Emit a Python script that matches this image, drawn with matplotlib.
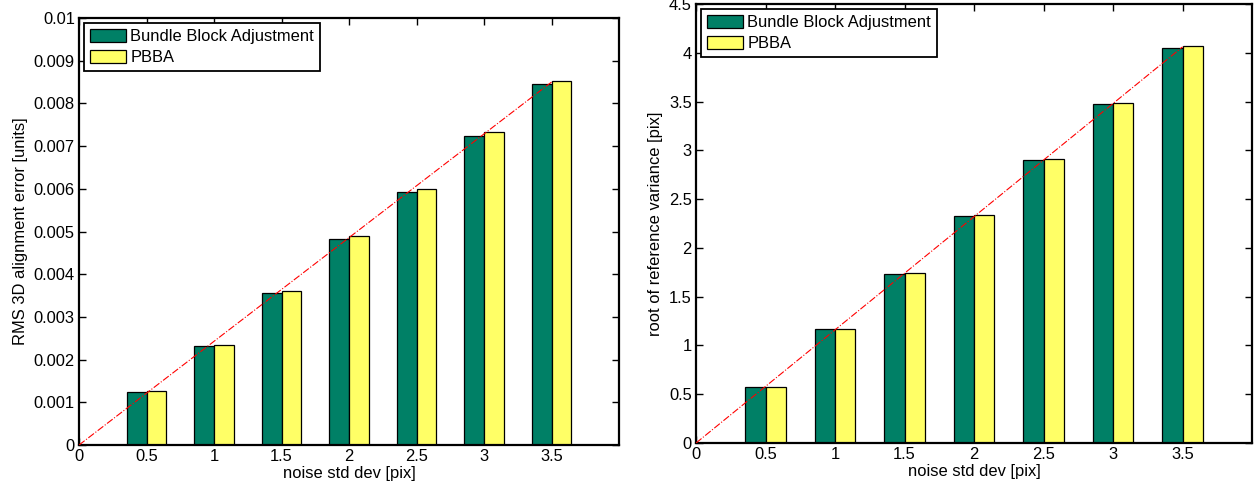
import numpy as np
import matplotlib
matplotlib.use('Agg')
import matplotlib.pyplot as plt

plt.rcParams['font.family'] = ['Liberation Sans', 'DejaVu Sans']
plt.rcParams['font.size'] = 11.9

# noise levels and results for the two solvers
noise = [0.5, 1.0, 1.5, 2.0, 2.5, 3.0, 3.5]
series_names = ['Bundle Block Adjustment', 'PBBA']

rms_bba = [0.00124, 0.00233, 0.00357, 0.00482, 0.00593, 0.00723, 0.00845]
rms_pbba = [0.00126, 0.00235, 0.00361, 0.00490, 0.00600, 0.00734, 0.00853]
rms_ref = [0.0, 0.0085]

sigma_bba = [0.571, 1.165, 1.732, 2.323, 2.897, 3.471, 4.045]
sigma_pbba = [0.577, 1.172, 1.743, 2.334, 2.911, 3.488, 4.065]
sigma_ref = [0.0, 4.06]
ref_x = [0.0, 3.5]

x_ticks = [0, 0.5, 1, 1.5, 2, 2.5, 3, 3.5]

green = '#008066'
yellow = '#ffff66'
bw = 0.145


def bar_panel(ax, a, b, ref, ylim, yticks, ylabel):
    x = np.array(noise)
    ax.bar(x - bw / 2, a, bw, color=green, edgecolor='black', linewidth=0.9,
           label=series_names[0], zorder=2)
    ax.bar(x + bw / 2, b, bw, color=yellow, edgecolor='black', linewidth=0.9,
           label=series_names[1], zorder=2)
    ax.plot(ref_x, ref, color='red', linestyle='-.', linewidth=0.8, zorder=3)
    ax.set_xlim(0, 4)
    ax.set_ylim(*ylim)
    ax.set_xticks(x_ticks)
    ax.set_xticklabels(['0', '0.5', '1', '1.5', '2', '2.5', '3', '3.5'])
    ax.set_yticks(yticks)
    ax.tick_params(direction='in', top=True, right=True, length=5, width=1,
                   pad=3)
    for s in ax.spines.values():
        s.set_linewidth(1.6)
    ax.set_xlabel('noise std dev [pix]', labelpad=1)
    ax.set_ylabel(ylabel, labelpad=4)
    leg = ax.legend(loc='upper left', fancybox=False, framealpha=1,
                    edgecolor='black', borderaxespad=0.3, borderpad=0.35,
                    handlelength=2.2, handleheight=0.9, handletextpad=0.25,
                    labelspacing=0.32)
    leg.get_frame().set_linewidth(1.3)


fig = plt.figure(figsize=(12.6, 4.9), dpi=100)
ax1 = fig.add_axes([0.0627, 0.0918, 0.4286, 0.8714])
ax2 = fig.add_axes([0.5524, 0.0959, 0.4413, 0.896])

y1 = np.round(np.arange(0, 0.0101, 0.001), 3)
bar_panel(ax1, rms_bba, rms_pbba, rms_ref, (0, 0.01), y1,
          'RMS 3D alignment error [units]')
ax1.set_yticklabels(['0'] + ['%g' % v for v in y1[1:]])

y2 = np.arange(0, 4.51, 0.5)
bar_panel(ax2, sigma_bba, sigma_pbba, sigma_ref, (0, 4.5), y2,
          'root of reference variance [pix]')
ax2.set_yticklabels(['%g' % v for v in y2])

fig.savefig('out.png', dpi=100)
